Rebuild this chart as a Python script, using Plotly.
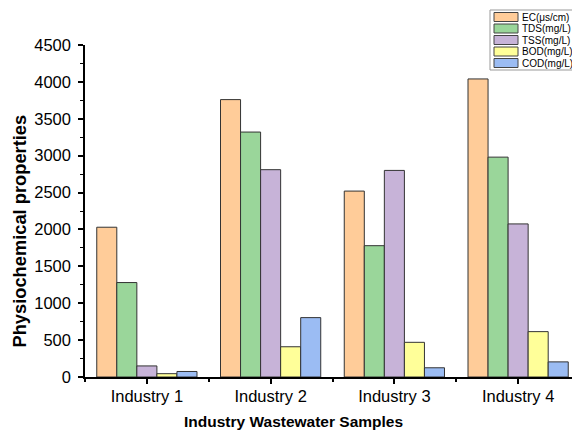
import plotly.graph_objects as go

industries = ["Industry 1", "Industry 2", "Industry 3", "Industry 4"]
series_names = ["EC(μs/cm)", "TDS(mg/L)", "TSS(mg/L)", "BOD(mg/L)", "COD(mg/L)"]
ec = [2030, 3760, 2520, 4040]
tds = [1280, 3320, 1780, 2980]
tss = [150, 2810, 2800, 2075]
bod = [45, 410, 470, 615]
cod = [75, 805, 125, 205]
y_ticks = [0, 500, 1000, 1500, 2000, 2500, 3000, 3500, 4000, 4500]

colors = ["#FFCC99", "#9AD69A", "#C7B3D8", "#FFFF99", "#9BBCF3"]
x_pos = list(range(len(industries)))

# the page body adds an 8px offset; the figure is sized to fill the rest
OFF = 8
W, H = 580 - OFF, 433 - OFF
ML, MR, MT, MB = 85 - OFF, 0, 45 - OFF, 56
PW, PH = W - ML - MR, H - MT - MB


def px_x(px):
    return (px - OFF - ML) / PW


def px_y(py):
    return (H - MB - (py - OFF)) / PH


fig = go.Figure()
for name, vals, col in zip(series_names, [ec, tds, tss, bod, cod], colors):
    fig.add_trace(go.Bar(
        x=x_pos, y=vals, name=name,
        marker=dict(color=col, line=dict(color="#333333", width=1)),
    ))

font_family = "Liberation Sans, Arial, sans-serif"

# legend box drawn in the top-right corner
shapes = [dict(type="rect", xref="paper", yref="paper",
               x0=px_x(490), x1=px_x(592), y0=px_y(70), y1=px_y(10),
               line=dict(color="#999999", width=1), fillcolor="white", layer="above")]
annotations = []
row0, step = 17, 11.5
for i, (name, col) in enumerate(zip(series_names, colors)):
    cy = row0 + i * step
    shapes.append(dict(type="rect", xref="paper", yref="paper",
                       x0=px_x(494), x1=px_x(518), y0=px_y(cy + 4.5), y1=px_y(cy - 4.5),
                       line=dict(color="#444444", width=1), fillcolor=col, layer="above"))
    annotations.append(dict(xref="paper", yref="paper", x=px_x(520), y=px_y(cy),
                            xanchor="left", yanchor="middle", showarrow=False,
                            text=name, font=dict(size=10, family=font_family, color="black")))

# axis titles (positioned as in the reference)
annotations.append(dict(xref="paper", yref="paper", x=px_x(293), y=px_y(421),
                        xanchor="center", yanchor="middle", showarrow=False,
                        text="<b>Industry Wastewater Samples</b>",
                        font=dict(size=15.5, family=font_family, color="black")))
annotations.append(dict(xref="paper", yref="paper", x=px_x(18.5), y=px_y(231),
                        xanchor="center", yanchor="middle", showarrow=False, textangle=-90,
                        text="<b>Physiochemical properties</b>",
                        font=dict(size=18.3, family=font_family, color="black")))

fig.update_layout(
    width=W, height=H,
    margin=dict(l=ML, r=MR, t=MT, b=MB, autoexpand=False),
    paper_bgcolor="white", plot_bgcolor="white",
    barmode="group", bargap=0.19, bargroupgap=0,
    font=dict(family=font_family, color="black"),
    showlegend=False,
    shapes=shapes, annotations=annotations,
    xaxis=dict(
        range=[-0.5, 3.5],
        tickmode="array", tickvals=x_pos, ticktext=industries,
        ticks="outside", ticklen=5, tickwidth=1.5, tickcolor="black",
        showline=True, linecolor="black", linewidth=1.5,
        showgrid=False, zeroline=False, ticklabelstandoff=-2,
        tickfont=dict(size=16.5, family=font_family),
        minor=dict(tickmode="array", tickvals=[-0.5, 0.5, 1.5, 2.5, 3.5],
                   ticks="outside", ticklen=3, tickwidth=1.5, tickcolor="black"),
    ),
    yaxis=dict(
        range=[0, 4500],
        tickmode="array", tickvals=y_ticks,
        ticks="outside", ticklen=5, tickwidth=1.5, tickcolor="black",
        showline=True, linecolor="black", linewidth=1.5,
        showgrid=False, zeroline=False, ticklabelstandoff=4,
        tickfont=dict(size=16.5, family=font_family),
        minor=dict(dtick=250, tick0=0, ticks="outside", ticklen=3,
                   tickwidth=1, tickcolor="black"),
    ),
)

fig.write_html("out.html")
